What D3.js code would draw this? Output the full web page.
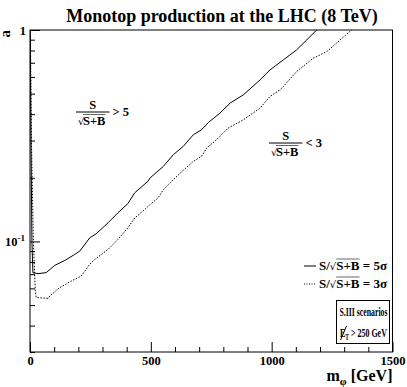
<!DOCTYPE html>
<html>
<head>
<meta charset="utf-8">
<script src="https://cdn.jsdelivr.net/npm/d3@7"></script>
<style>
  body { margin: 0; background: #fff; }
  svg { display: block; font-family: "Liberation Serif", "DejaVu Serif", serif; font-weight: bold; }
</style>
</head>
<body>
<script>
// m_phi [GeV] and a
var mSolid = [0, 4, 8, 12, 33, 67, 102, 144, 185, 206, 247, 274, 323, 364, 405, 433, 488, 497, 552, 593, 634, 676, 710, 738, 786, 828, 883, 952, 993, 1048, 1103, 1145, 1186, 1200];
var aSolid = [1.5, 0.3, 0.1, 0.0712, 0.0704, 0.0712, 0.077, 0.0813, 0.0868, 0.090, 0.104, 0.1087, 0.1225, 0.1366, 0.151, 0.1697, 0.1925, 0.1998, 0.2265, 0.2572, 0.2815, 0.3197, 0.3375, 0.3653, 0.4046, 0.4511, 0.4937, 0.581, 0.6476, 0.722, 0.8048, 0.897, 1.0, 1.03];
var mDotted = [0, 6, 14, 22, 26, 75, 82, 123, 171, 212, 247, 268, 323, 364, 405, 433, 475, 497, 530, 552, 593, 634, 676, 710, 731, 772, 820, 883, 952, 993, 1034, 1048, 1103, 1172, 1228, 1283, 1331, 1345];
var aDotted = [1.5, 0.3, 0.1, 0.058, 0.0543, 0.0538, 0.0552, 0.0605, 0.065, 0.0686, 0.0779, 0.0822, 0.0917, 0.1022, 0.116, 0.129, 0.1416, 0.1495, 0.1607, 0.1759, 0.196, 0.217, 0.2392, 0.2526, 0.2767, 0.3028, 0.3438, 0.3762, 0.4272, 0.485, 0.521, 0.54, 0.636, 0.735, 0.790, 0.897, 1.0, 1.03];

var xMajor = [0, 500, 1000, 1500];
var xMinor = d3.range(100, 1500, 100).filter(function(v) { return v % 500 != 0; });
var yMajor = [0.1, 1];
var yMinor = [0.03, 0.04, 0.05, 0.06, 0.07, 0.08, 0.09, 0.2, 0.3, 0.4, 0.5, 0.6, 0.7, 0.8, 0.9];

var W = 407, H = 387;
var margin = {top: 30, right: 14.5, bottom: 35, left: 30};
var width = W - margin.left - margin.right,
    height = H - margin.top - margin.bottom;

var svg = d3.select("body").append("svg").attr("width", W).attr("height", H);

var x = d3.scaleLinear().domain([0, 1500]).range([0, width]);
var y = d3.scaleLog().domain([0.03, 1]).range([height, 0]);

var g = svg.append("g").attr("transform", "translate(" + margin.left + "," + margin.top + ")");

g.append("clipPath").attr("id", "clip")
  .append("rect").attr("width", width).attr("height", height);

// curves
var line = d3.line()
  .x(function(d) { return x(d[0]); })
  .y(function(d) { return y(d[1]); });

g.append("path")
  .datum(d3.zip(mSolid, aSolid))
  .attr("clip-path", "url(#clip)")
  .attr("fill", "none").attr("stroke", "#000").attr("stroke-width", 1)
  .attr("d", line);
g.append("path")
  .datum(d3.zip(mDotted, aDotted))
  .attr("clip-path", "url(#clip)")
  .attr("fill", "none").attr("stroke", "#000").attr("stroke-width", 1)
  .attr("stroke-dasharray", "1.5,1.5")
  .attr("d", line);

// frame
g.append("rect").attr("width", width).attr("height", height)
  .attr("fill", "none").attr("stroke", "#000").attr("stroke-width", 1);

// axes: ticks point inward
g.append("g")
  .attr("transform", "translate(0," + height + ")")
  .call(d3.axisBottom(x).tickValues(xMajor).tickSize(-10).tickPadding(4).tickFormat(d3.format("d")))
  .call(function(a) { a.select(".domain").remove(); });
g.append("g")
  .attr("transform", "translate(0," + height + ")")
  .call(d3.axisBottom(x).tickValues(xMinor).tickSize(-5).tickFormat(""))
  .call(function(a) { a.select(".domain").remove(); });
g.append("g")
  .call(d3.axisLeft(y).tickValues(yMajor).tickSize(-10).tickFormat(""))
  .call(function(a) { a.select(".domain").remove(); });
g.append("g")
  .call(d3.axisLeft(y).tickValues(yMinor).tickSize(-5).tickFormat(""))
  .call(function(a) { a.select(".domain").remove(); });
g.selectAll(".tick line").attr("stroke", "#000");
g.selectAll(".tick text")
  .attr("font-family", "Liberation Serif").attr("font-weight", "bold")
  .attr("font-size", 12.5).attr("fill", "#000");

// y tick labels
g.append("text").attr("x", -4).attr("y", y(1) + 5)
  .attr("text-anchor", "end").attr("font-size", 12.5).text("1");
var t01 = g.append("text").attr("x", -5).attr("y", y(0.1) + 5)
  .attr("text-anchor", "end").attr("font-size", 12.5);
t01.append("tspan").text("10");
t01.append("tspan").attr("dy", -5).attr("font-size", 9).text("-1");

// axis titles
svg.append("text")
  .attr("transform", "translate(10,30) rotate(-90)")
  .attr("text-anchor", "end").attr("font-size", 15).text("a");
var xt = svg.append("text").attr("x", margin.left + width).attr("y", 381)
  .attr("text-anchor", "end").attr("font-size", 16);
xt.append("tspan").text("m");
xt.append("tspan").attr("dy", 4).attr("font-size", 11).text("\u03c6");
xt.append("tspan").attr("dy", -4).text(" [GeV]");

// title
svg.append("text").attr("x", 222).attr("y", 22)
  .attr("text-anchor", "middle").attr("font-size", 18)
  .text("Monotop production at the LHC (8 TeV)");

// S / sqrt(S+B) fraction with a relation on the right
function fraction(x0, yl, rel) {
  var f = svg.append("g").attr("font-size", 12.5);
  var den = f.append("text").attr("x", x0 + 7).attr("y", yl + 13).text("S+B");
  var dw = den.node().getComputedTextLength();
  f.append("text").attr("x", x0 + 2).attr("y", yl + 13).attr("font-weight", "normal")
    .attr("font-family", "DejaVu Sans").attr("font-size", 10).text("\u221a");
  f.append("line").attr("x1", x0 + 7).attr("x2", x0 + 7 + dw)
    .attr("y1", yl + 2.5).attr("y2", yl + 2.5).attr("stroke", "#000").attr("stroke-width", 0.6);
  var lw = dw + 11;
  f.append("line").attr("x1", x0).attr("x2", x0 + lw).attr("y1", yl).attr("y2", yl)
    .attr("stroke", "#000").attr("stroke-width", 1);
  f.append("text").attr("x", x0 + lw / 2).attr("y", yl - 3).attr("text-anchor", "middle").text("S");
  f.append("text").attr("x", x0 + lw + 3).attr("y", yl + 4).text(rel);
}
fraction(76, 112, "> 5");
fraction(269, 143, "< 3");

// legend
var legend = svg.append("g").attr("font-size", 13);
function legendRow(yy, dash, num) {
  legend.append("line").attr("x1", 304).attr("x2", 316).attr("y1", yy).attr("y2", yy)
    .attr("stroke", "#000").attr("stroke-width", 1).attr("stroke-dasharray", dash);
  var t = legend.append("text").attr("x", 319).attr("y", yy + 4);
  t.append("tspan").text("S/");
  t.append("tspan").attr("font-weight", "normal").attr("font-family", "DejaVu Sans")
    .attr("font-size", 10).text("\u221a");
  var w2 = t.node().getComputedTextLength();
  t.append("tspan").text("S+B");
  var w3 = t.node().getComputedTextLength();
  t.append("tspan").text(" = " + num + "\u03c3");
  legend.append("line").attr("x1", 319 + w2).attr("x2", 319 + w3)
    .attr("y1", yy - 7).attr("y2", yy - 7).attr("stroke", "#000").attr("stroke-width", 0.6);
}
legendRow(266, null, 5);
legendRow(284, "1,1.5", 3);

// scenario box, text squeezed to fit like the original pave
var box = svg.append("g").attr("font-size", 12.5);
box.append("rect").attr("x", 336.5).attr("y", 300.5).attr("width", 53).attr("height", 43)
  .attr("fill", "#fff").attr("stroke", "#000").attr("stroke-width", 1);
function squeeze(sel, x0, y0, w) {
  var s = w / sel.node().getComputedTextLength();
  sel.attr("transform", "translate(" + x0 + "," + y0 + ") scale(" + s + ",1)");
}
var sc = box.append("text").text("S.III scenarios");
squeeze(sc, 339.5, 316, 48);
var et = box.append("text");
et.append("tspan").text("E");
et.append("tspan").attr("dy", 3).attr("font-size", 8.5).text("T");
et.append("tspan").attr("dy", -3).text(" > 250 GeV");
squeeze(et, 340, 337, 47);
box.append("line").attr("x1", 340.5).attr("x2", 346.5).attr("y1", 340).attr("y2", 326)
  .attr("stroke", "#000").attr("stroke-width", 1);
</script>
</body>
</html>
